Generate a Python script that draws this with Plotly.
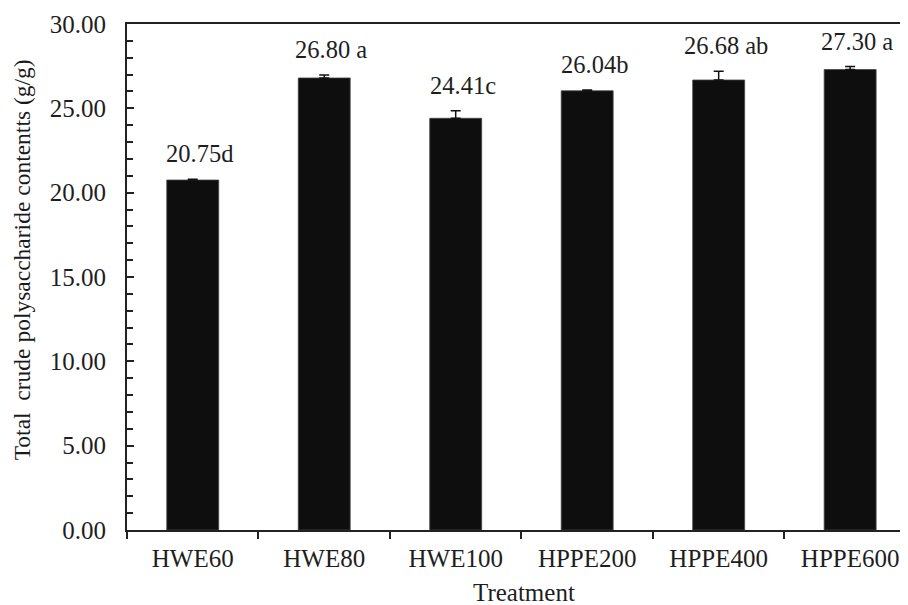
import plotly.graph_objects as go

categories = ["HWE60", "HWE80", "HWE100", "HPPE200", "HPPE400", "HPPE600"]
values = [20.75, 26.80, 24.41, 26.04, 26.68, 27.30]
errors = [0.05, 0.18, 0.45, 0.05, 0.52, 0.18]
letters = ["d", " a", "c", "b", " ab", " a"]
y_ticks = [0, 5, 10, 15, 20, 25, 30]

FONT = "Liberation Serif, Times New Roman, serif"
TXT = "#1e1e1e"

fig = go.Figure()
fig.add_trace(go.Bar(
    x=categories, y=values,
    marker=dict(color="#0e0e0e", line=dict(color="#444", width=0.8)),
    width=0.395,
    error_y=dict(type="data", symmetric=False, array=errors,
                 arrayminus=[0] * len(errors), color="#111", thickness=1.5, width=5),
))

for c, v, e, l in zip(categories, values, errors, letters):
    fig.add_annotation(x=c, y=v + e, text=f"{v:.2f}{l}", showarrow=False,
                       yanchor="bottom", yshift=10, xshift=7,
                       font=dict(family=FONT, size=24.5, color=TXT))

# axis titles as annotations for exact placement
fig.add_annotation(xref="paper", yref="paper", x=-0.135, y=0.534,
                   text="Total&nbsp; crude polysaccharide contentts (g/g)",
                   textangle=-90, showarrow=False, xanchor="center", yanchor="middle",
                   font=dict(family=FONT, size=23.5, color="#1a1a1a"))
fig.add_annotation(xref="paper", yref="paper", x=0.508, y=0, yshift=-62,
                   text="Treatment", showarrow=False, xanchor="center", yanchor="middle",
                   font=dict(family=FONT, size=25, color=TXT))

fig.update_layout(
    width=900, height=597,
    margin=dict(l=119, r=0, t=16, b=75),
    plot_bgcolor="white", paper_bgcolor="white",
    showlegend=False,
    font=dict(family=FONT, size=25, color=TXT),
)
fig.update_xaxes(
    type="category", range=[-0.5, 5.44],
    showline=True, linecolor="#222", linewidth=2, mirror=True,
    ticks="outside", tickson="boundaries", ticklen=7, tickwidth=2, tickcolor="#222",
    showgrid=False, zeroline=False,
    ticklabelstandoff=5,
    tickfont=dict(family=FONT, size=25, color=TXT),
)
fig.update_yaxes(
    range=[0, 30], tickvals=y_ticks, tickformat=".2f",
    showline=True, linecolor="#222", linewidth=2,
    ticks="inside", ticklen=7, tickwidth=2, tickcolor="#222",
    minor=dict(ticks="inside", dtick=1, ticklen=6, tickwidth=1.5, tickcolor="#222"),
    showgrid=False, zeroline=False,
    ticklabelstandoff=14,
    tickfont=dict(family=FONT, size=25, color=TXT),
)

fig.write_html("out.html")
